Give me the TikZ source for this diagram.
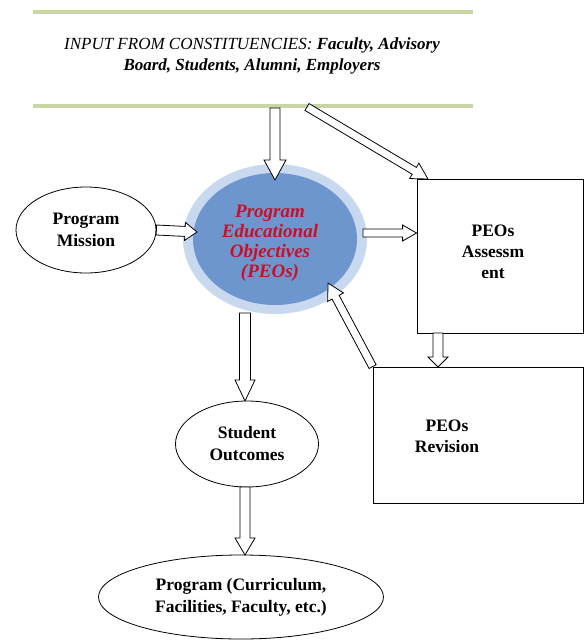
\documentclass[tikz,border=0pt]{standalone}
\usepackage{fontspec}
\setmainfont{Liberation Serif}
\usetikzlibrary{calc,shapes.geometric}
\definecolor{linegreen}{RGB}{200,214,166}
\definecolor{peoblue}{RGB}{110,150,206}
\definecolor{peoglow}{RGB}{200,217,239}
\definecolor{peored}{RGB}{200,16,40}
\tikzset{
  greenline/.style={draw=linegreen, line width=4pt},
  oval/.style={ellipse, draw=black, line width=0.8pt, inner sep=0pt, align=center, font=\fontsize{17.5}{22}\selectfont\bfseries},
  boxnode/.style={rectangle, draw=black, line width=0.8pt, inner sep=0pt},
  lbl/.style={align=center, font=\fontsize{17.5}{21}\selectfont\bfseries},
  barrow/.style={draw=black, fill=white, line width=0.8pt, line join=miter},
}
\newcommand\blockarrow[5]{%
  \path let \p1=($(#2)-(#1)$) in \pgfextra{%
    \pgfmathsetmacro\baang{atan2(\y1,\x1)}%
    \pgfmathsetmacro\balen{veclen(\x1,\y1)}%
    \global\let\baangG\baang\global\let\balenG\balen};
  \begin{scope}[shift={(#1)},rotate=\baangG]
    \draw[barrow] (0pt,-#3pt) -- ({\balenG pt-#5pt},-#3pt) -- ({\balenG pt-#5pt},-#4pt)
      -- (\balenG pt,0pt) -- ({\balenG pt-#5pt},#4pt) -- ({\balenG pt-#5pt},#3pt)
      -- (0pt,#3pt) -- cycle;
  \end{scope}}
\begin{document}
\begin{tikzpicture}[x=1pt,y=-1pt]
\useasboundingbox (0,0) rectangle (585,641);
% green rules
\coordinate (g1l) at (33,12); \coordinate (g1r) at (473,12);
\coordinate (g2l) at (33,106); \coordinate (g2r) at (473,106);
\draw[greenline] (g1l) -- (g1r);
\draw[greenline] (g2l) -- (g2r);
\node[align=center, font=\fontsize{17}{21}\selectfont\itshape] (inp) at (252,56)
  {INPUT FROM CONSTITUENCIES: \textbf{Faculty, Advisory}\\ \textbf{Board, Students, Alumni, Employers}};
% PEO ellipse
\node[ellipse, fill=peoglow, minimum width=184pt, minimum height=150pt, inner sep=0pt] (peoglow) at (275,239) {};
\node[ellipse, fill=peoblue, minimum width=164pt, minimum height=132pt, inner sep=0pt] (peo) at (275,239) {};
\node[align=center, text=peored, font=\fontsize{19}{20}\selectfont\bfseries\itshape] (peotxt) at (270,243)
  {Program\\Educational\\Objectives\\(PEOs)};
% other nodes
\node[oval, minimum width=140pt, minimum height=86pt] (mission) at (86,230) {Program\\Mission};
\node[boxnode, minimum width=166pt, minimum height=154pt] (assess) at (500,256) {};
\node[lbl] (assesstxt) at (493,252) {PEOs\\Assessm\\ent};
\node[boxnode, minimum width=210pt, minimum height=136pt] (rev) at (478,435) {};
\node[lbl] (revtxt) at (447,436) {PEOs\\Revision};
\node[oval, minimum width=143pt, minimum height=86pt] (so) at (247,444) {Student\\Outcomes};
\node[oval, minimum width=285pt, minimum height=84pt] (prog) at (241,597) {Program (Curriculum,\\Facilities, Faculty, etc.)};
% connector end points
\coordinate (a1s) at (275,108); \coordinate (a1e) at (275,180);
\coordinate (a2s) at (mission.east); \coordinate (a2e) at (197,232);
\coordinate (a3s) at (363,233); \coordinate (a3e) at (assess.west |- a3s);
\coordinate (a4s) at (307,107); \coordinate (a4e) at (428,179);
\coordinate (a5s) at (438,333); \coordinate (a5e) at (438,367);
\coordinate (a6s) at (rev.north west); \coordinate (a6e) at (328,283);
\coordinate (a7s) at (245,313); \coordinate (a7e) at (245,401);
\coordinate (a8s) at (245,487); \coordinate (a8e) at (245,555);
\blockarrow{a1s}{a1e}{5}{11}{20}
\blockarrow{a2s}{a2e}{5}{9}{12}
\blockarrow{a3s}{a3e}{4}{8}{14}
\blockarrow{a4s}{a4e}{4}{9}{16}
\blockarrow{a5s}{a5e}{5}{10}{10}
\blockarrow{a6s}{a6e}{4}{9}{16}
\blockarrow{a7s}{a7e}{5.5}{10}{21}
\blockarrow{a8s}{a8e}{5}{10}{17}
\end{tikzpicture}
\end{document}
